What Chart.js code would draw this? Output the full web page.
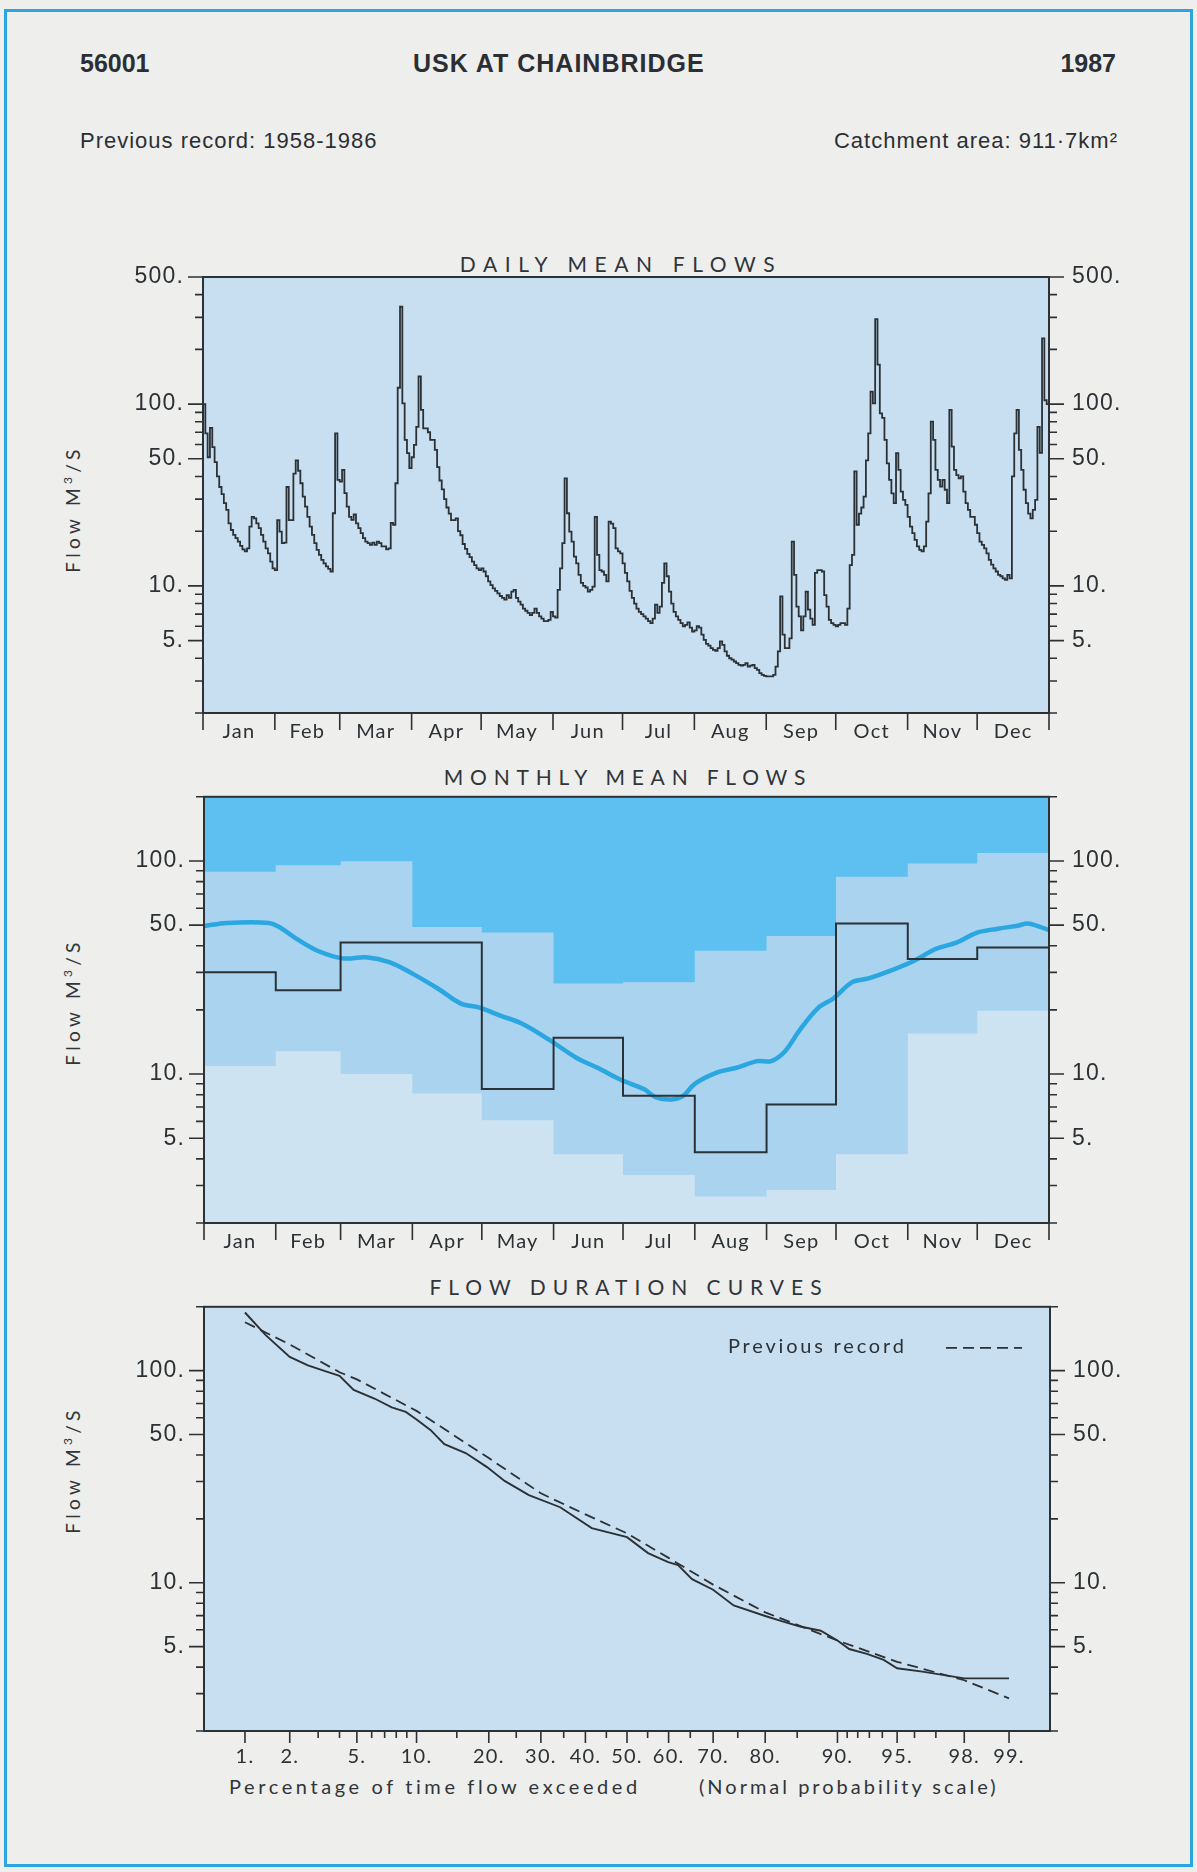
<!DOCTYPE html>
<html>
<head>
<meta charset="utf-8">
<title>56001 USK AT CHAINBRIDGE 1987</title>
<script src="https://cdn.jsdelivr.net/npm/chart.js@4.4.1/dist/chart.umd.min.js"></script>
<style>
  html, body { margin: 0; padding: 0; background: #eeeeec; }
  #page { position: relative; width: 1197px; height: 1872px; overflow: hidden; background: #eeeeec; }
  .frame { position: absolute; background: #2ba4df; }
  .txt { position: absolute; white-space: nowrap; color: #2b2f33; line-height: 1; }
  .hdr { font-family: "Liberation Sans", Arial, sans-serif; }
  .plot-title { font-family: Lato, "DejaVu Sans", sans-serif; font-weight: 400; font-size: 21px; letter-spacing: 7.3px; transform: translateX(-50%); color: #30353a; }
  .ytitle { font-family: Lato, "DejaVu Sans", sans-serif; font-weight: 400; font-size: 19px; letter-spacing: 4.3px; transform: translate(-50%, -50%) rotate(-90deg); color: #30353a; }
  .ytitle sup { font-size: 12px; vertical-align: 8px; line-height: 0; }
  .xtitle { font-family: Lato, "DejaVu Sans", sans-serif; font-weight: 400; font-size: 20px; letter-spacing: 3.6px; color: #30353a; }
  .chart-box { position: absolute; left: 0; width: 1197px; }
</style>
</head>
<body>
<div id="page">
  <div class="frame" style="left:4px;top:9px;width:1189px;height:3px"></div>
  <div class="frame" style="left:4px;top:9px;width:3px;height:1858px"></div>
  <div class="frame" style="left:1190px;top:9px;width:3px;height:1858px"></div>
  <div class="frame" style="left:4px;top:1864px;width:1189px;height:3px"></div>

  <div class="txt hdr" style="left:80px;top:51px;font-size:25px;font-weight:bold">56001</div>
  <div class="txt hdr" style="left:413px;top:51px;font-size:25px;font-weight:bold;letter-spacing:1px">USK AT CHAINBRIDGE</div>
  <div class="txt hdr" style="right:81px;top:51px;font-size:25px;font-weight:bold">1987</div>
  <div class="txt hdr" style="left:80px;top:130px;font-size:22px;letter-spacing:1px">Previous record: 1958-1986</div>
  <div class="txt hdr" style="right:79px;top:130px;font-size:22px;letter-spacing:1px">Catchment area: 911·7km²</div>

  <div class="txt plot-title" style="left:621px;top:253px;letter-spacing:7.6px">DAILY MEAN FLOWS</div>
  <div class="txt plot-title" style="left:628px;top:766px;letter-spacing:6.8px">MONTHLY MEAN FLOWS</div>
  <div class="txt plot-title" style="left:629px;top:1276px;letter-spacing:7.0px">FLOW DURATION CURVES</div>

  <div class="txt ytitle" style="left:72px;top:509px">Flow M<sup>3</sup>/S</div>
  <div class="txt ytitle" style="left:72px;top:1002px">Flow M<sup>3</sup>/S</div>
  <div class="txt ytitle" style="left:72px;top:1470px">Flow M<sup>3</sup>/S</div>

  <div class="txt xtitle" style="left:229px;top:1776px">Percentage of time flow exceeded</div>
  <div class="txt xtitle" style="left:699px;top:1776px;letter-spacing:3px">(Normal probability scale)</div>

  <div class="chart-box" style="top:230px;height:530px"><canvas id="dailyChart"></canvas></div>
  <div class="chart-box" style="top:760px;height:520px"><canvas id="monthlyChart"></canvas></div>
  <div class="chart-box" style="top:1270px;height:520px"><canvas id="durationChart"></canvas></div>
</div>

<script>
// ---------- data ----------
const monthNames = ['Jan', 'Feb', 'Mar', 'Apr', 'May', 'Jun', 'Jul', 'Aug', 'Sep', 'Oct', 'Nov', 'Dec'];
const monthStartDays = [0, 31, 59, 90, 120, 151, 181, 212, 243, 273, 304, 334, 365];

// daily mean flow 1987 (m3/s), 1 Jan .. 31 Dec
const dailyFlow1987 = [
  // Jan
  100, 69, 51, 74, 58, 48, 40, 35, 32, 28.5,
  26.2, 22.1, 20.3, 19.1, 18.3, 17.5, 16.6, 15.9, 15.5, 16.1,
  21.2, 24, 23.5, 22.1, 20.8, 19.1, 17.5, 16.1, 15.1, 13.6,
  12.5,
  // Feb
  12.2, 23, 19.9, 17.2, 17.3, 35, 23, 23, 41.5, 49,
  43, 36.7, 31, 27.3, 24, 21.2, 19.1, 17.2, 15.8, 14.8,
  13.9, 13.3, 12.8, 12.4, 12.0, 25.1, 69, 38.3,
  // Mar
  37.5, 43.5, 32.4, 27.3, 24, 23.1, 24.7, 22.1, 20.8, 19.5,
  18.3, 17.5, 17.2, 16.8, 17.3, 16.8, 17.5, 17.2, 16.5, 16.5,
  15.9, 16.1, 22.2, 21.7, 36.7, 123, 343, 101, 63.5, 53.7,
  44.4,
  // Apr
  51, 59.6, 75, 142, 93, 73.6, 73.6, 70, 63.5, 63.5,
  56, 45, 38, 34, 30, 27, 25, 23, 23, 23.5,
  20, 19, 17, 16, 15, 14.4, 13.6, 13, 12.5, 12.2,
  // May
  12.5, 12.0, 11.3, 10.6, 10.1, 9.7, 9.4, 9.1, 8.8, 8.6,
  8.4, 8.9, 8.6, 9.3, 9.5, 8.6, 8.2, 7.9, 7.5, 7.3,
  7.1, 6.9, 7.1, 7.5, 7.1, 6.8, 6.6, 6.4, 6.4, 6.5,
  7.2,
  // Jun
  6.8, 6.7, 9.5, 12.5, 17.2, 39, 25.1, 19.9, 17.5, 14.5,
  13.3, 11.5, 10.4, 10.0, 9.8, 9.3, 9.5, 9.9, 24, 14.8,
  12.2, 12.0, 11.5, 10.6, 22.6, 22, 20.8, 16.1, 15.5, 15.1,
  // Jul
  13.3, 11.8, 10.6, 9.4, 8.6, 8.0, 7.5, 7.2, 7.0, 6.8,
  6.6, 6.4, 6.25, 6.6, 7.9, 7.1, 7.7, 10.4, 13.3, 11.3,
  9.3, 8.0, 7.2, 6.8, 6.5, 6.25, 6.0, 6.1, 6.3, 5.9,
  5.6,
  // Aug
  5.7, 6.0, 5.9, 5.4, 5.05, 4.8, 4.7, 4.55, 4.45, 4.4,
  4.55, 4.95, 4.74, 4.36, 4.13, 4.0, 3.93, 3.84, 3.76, 3.68,
  3.64, 3.68, 3.76, 3.6, 3.64, 3.68, 3.53, 3.45, 3.31, 3.24,
  3.2,
  // Sep
  3.18, 3.18, 3.18, 3.24, 3.6, 4.36, 8.75, 5.4, 4.55, 4.55,
  5.15, 17.5, 11.5, 7.7, 6.8, 5.7, 6.8, 9.3, 7.4, 6.6,
  6.1, 11.8, 12.2, 12.2, 12.0, 8.9, 7.7, 6.5, 6.25, 6.1,
  // Oct
  6.0, 6.1, 6.25, 6.25, 6.1, 7.5, 13, 14.8, 42.6, 21.7,
  25, 27, 31, 49, 69, 117, 101, 293, 165, 89,
  84, 63.5, 47.2, 38.3, 32.3, 28.5, 53.7, 43.5, 33, 29.7,
  27.9,
  // Nov
  24, 21.2, 19.5, 17.9, 16.5, 15.8, 15.5, 16.5, 22.6, 32.3,
  80, 63.5, 43.5, 38.3, 35.2, 38.3, 33.8, 28.5, 93, 58.4,
  43.5, 40.7, 39.1, 40, 33, 28.5, 26.2, 24, 24, 21.7,
  // Dec
  19.5, 17.5, 16.8, 16.1, 15.1, 13.9, 13.1, 12.5, 12.0, 11.5,
  11.3, 11.0, 10.8, 11.5, 11.0, 40, 69, 93, 56, 43.5,
  33.8, 28.5, 25, 23.5, 26.2, 29.7, 75, 54, 230, 105,
  100
];

// monthly flows (m3/s)
const monthlyMean1987 = [30, 24.7, 41.4, 41.4, 8.5, 14.8, 7.9, 4.3, 7.2, 50.9, 34.7, 39.3];
const monthlyMaxPrevious = [89, 95.5, 99.7, 49, 46.1, 26.6, 27.0, 37.9, 44.5, 84.3, 97.2, 108.9];
const monthlyMinPrevious = [10.9, 12.8, 10.0, 8.1, 6.07, 4.2, 3.36, 2.66, 2.86, 4.2, 15.5, 19.8];

// long-term average daily flow through the year
const averageFlowDays = [0, 10, 28, 33, 40, 49, 60, 70, 80, 90, 101, 111, 119, 128, 137, 149, 161, 170, 180, 190, 195, 202, 207, 212, 222, 230, 239, 245, 251, 257, 265, 272, 280, 287, 298, 307, 316, 325, 334, 343, 352, 356, 365];
const averageFlowValues = [49.5, 51.2, 51.2, 48.6, 43.1, 37.9, 34.9, 35.3, 33.5, 29.6, 25.2, 21.4, 20.5, 18.8, 17.3, 14.5, 11.9, 10.7, 9.4, 8.5, 7.8, 7.6, 7.9, 9.0, 10.2, 10.7, 11.5, 11.5, 12.8, 15.9, 20.3, 22.7, 27.0, 28.1, 31.0, 34.1, 38.6, 41.4, 46.1, 48.1, 49.8, 50.9, 47.4];

// flow duration curves: percentage of time exceeded -> flow
const duration1987Percent = [1, 1.39, 2, 2.6, 3.3, 4, 4.8, 6.2, 7.6, 8.9, 10, 11.6, 13.3, 16.3, 19.7, 22.8, 27.5, 34.2, 41.5, 50, 55.1, 59.9, 62.2, 65.4, 70, 74.2, 80, 82.8, 85.4, 88.1, 90, 91.2, 92.8, 94.1, 95, 96.4, 98, 99];
const duration1987Flow = [188, 147, 116, 106, 99.4, 94.6, 81.2, 73.9, 67.1, 63.9, 58.8, 52.4, 45.0, 40.9, 35.1, 30.2, 25.9, 22.7, 18.1, 16.4, 13.8, 12.5, 12.1, 10.4, 9.27, 7.82, 6.97, 6.57, 6.22, 5.94, 5.34, 4.87, 4.62, 4.33, 3.95, 3.81, 3.54, 3.54];
const durationPreviousPercent = [1, 2, 4, 5, 10, 20, 30, 40, 50, 60, 70, 80, 90, 95, 98, 99];
const durationPreviousFlow = [169, 133, 98.3, 91, 64.6, 38.7, 26.4, 21.0, 17.1, 13.1, 9.8, 7.25, 5.34, 4.24, 3.47, 2.85];

// axis ticks
const flowTickValues = [2, 3, 4, 5, 6, 7, 8, 9, 10, 20, 30, 40, 50, 60, 70, 80, 90, 100, 200, 300, 400, 500];
const flowTickLabels = { 5: '5.', 10: '10.', 50: '50.', 100: '100.', 500: '500.' };
const percentTickValues = [1, 2, 3, 4, 5, 6, 7, 8, 9, 10, 15, 20, 25, 30, 35, 40, 45, 50, 55, 60, 65, 70, 75, 80, 85, 90, 91, 92, 93, 94, 95, 96, 97, 98, 99];
const percentTickLabels = { 1: '1.', 2: '2.', 5: '5.', 10: '10.', 20: '20.', 30: '30.', 40: '40.', 50: '50.', 60: '60.', 70: '70.', 80: '80.', 90: '90.', 95: '95.', 98: '98.', 99: '99.' };

// ---------- styling ----------
const INK = '#2c3135';
const PLOT_FILL = '#c7dff0';
const BAND_TOP = '#5ec0f0';
const BAND_MID = '#a9d3ef';
const BAND_LOW = '#cde3f2';
const AVERAGE_BLUE = '#2aa6e0';
const NUM_FONT = { family: '"Liberation Sans", Arial, sans-serif', size: 23 };
const LABEL_FONT = { family: 'Lato, "DejaVu Sans", sans-serif', size: 20 };
const PREVIOUS_DASH = [11, 6];

// ---------- normal probability scale ----------
function normalQuantile(p) {
  const a = [-3.969683028665376e+01, 2.209460984245205e+02, -2.759285104469687e+02, 1.383577518672690e+02, -3.066479806614716e+01, 2.506628277459239e+00];
  const b = [-5.447609879822406e+01, 1.615858368580409e+02, -1.556989798598866e+02, 6.680131188771972e+01, -1.328068155288572e+01];
  const c = [-7.784894002430293e-03, -3.223964580411365e-01, -2.400758277161838e+00, -2.549732539343734e+00, 4.374664141464968e+00, 2.938163982698783e+00];
  const d = [7.784695709041462e-03, 3.224671290700398e-01, 2.445134137142996e+00, 3.754408661907416e+00];
  const lo = 0.02425, hi = 1 - lo;
  if (p < lo) {
    const q = Math.sqrt(-2 * Math.log(p));
    return (((((c[0] * q + c[1]) * q + c[2]) * q + c[3]) * q + c[4]) * q + c[5]) / ((((d[0] * q + d[1]) * q + d[2]) * q + d[3]) * q + 1);
  }
  if (p <= hi) {
    const q = p - 0.5, r = q * q;
    return (((((a[0] * r + a[1]) * r + a[2]) * r + a[3]) * r + a[4]) * r + a[5]) * q / (((((b[0] * r + b[1]) * r + b[2]) * r + b[3]) * r + b[4]) * r + 1);
  }
  const q = Math.sqrt(-2 * Math.log(1 - p));
  return -(((((c[0] * q + c[1]) * q + c[2]) * q + c[3]) * q + c[4]) * q + c[5]) / ((((d[0] * q + d[1]) * q + d[2]) * q + d[3]) * q + 1);
}

class ProbabilityScale extends Chart.Scale {
  determineDataLimits() {
    this.min = this.options.min;
    this.max = this.options.max;
  }
  buildTicks() { return []; }
  getLabelForValue(v) { return String(v); }
  configure() {
    super.configure();
    this._zStart = normalQuantile(this.min / 100);
    this._zEnd = normalQuantile(this.max / 100);
  }
  getPixelForValue(v) {
    const z = normalQuantile(v / 100);
    return this.getPixelForDecimal((z - this._zStart) / (this._zEnd - this._zStart));
  }
  getValueForPixel(px) {
    const t = this.getDecimalForPixel(px);
    const zTarget = this._zStart + t * (this._zEnd - this._zStart);
    let lo = this.min, hi = this.max;
    for (let i = 0; i < 50; i++) {
      const mid = (lo + hi) / 2;
      if (normalQuantile(mid / 100) < zTarget) lo = mid; else hi = mid;
    }
    return (lo + hi) / 2;
  }
  getPixelForTick(i) { return this.getPixelForValue(this.ticks[i].value); }
}
ProbabilityScale.id = 'probability';
ProbabilityScale.defaults = {};
Chart.register(ProbabilityScale);

// ---------- helpers ----------
const monthMidDays = monthStartDays.slice(0, 12).map((s, i) => (s + monthStartDays[i + 1]) / 2);
const monthStep = arr => arr.map((v, i) => ({ x: monthStartDays[i], y: v })).concat([{ x: 365, y: arr[arr.length - 1] }]);
const dailyPoints = dailyFlow1987.map((v, i) => ({ x: i, y: v })).concat([{ x: 365, y: dailyFlow1987[dailyFlow1987.length - 1] }]);
const averagePoints = averageFlowDays.map((d, i) => ({ x: d, y: averageFlowValues[i] }));
const pairs = (xs, ys) => xs.map((x, i) => ({ x, y: ys[i] }));

function monthAxis(height, padding) {
  return {
    type: 'linear', position: 'bottom', min: 0, max: 365,
    afterFit: s => { s.height = height; },
    afterBuildTicks: s => { s.ticks = monthMidDays.map(v => ({ value: v })); },
    grid: { display: false, drawTicks: false },
    border: { display: false },
    ticks: { autoSkip: false, maxRotation: 0, padding, color: INK, font: LABEL_FONT, callback: (v, i) => monthNames[i] }
  };
}

function flowAxis(position, min, max, width) {
  return {
    type: 'logarithmic', position, min, max,
    afterFit: s => { s.width = width; },
    afterBuildTicks: s => { s.ticks = flowTickValues.filter(v => v >= min && v <= max).map(v => ({ value: v })); },
    grid: { display: false, drawTicks: false },
    border: { display: false },
    ticks: { autoSkip: false, padding: position === 'left' ? 19 : 23, color: INK, font: NUM_FONT, callback: v => flowTickLabels[v] || '' }
  };
}

// plot background, frame and tick marks of different lengths
function plotFrame(opts) {
  return {
    id: 'plotFrame',
    beforeDraw(chart) {
      const { ctx, chartArea: a } = chart;
      ctx.save();
      ctx.fillStyle = opts.fill;
      ctx.fillRect(a.left, a.top, a.right - a.left, a.bottom - a.top);
      ctx.restore();
      // slightly open tracking for the axis labels drawn after this point
      ctx.letterSpacing = '1.2px';
    },
    afterDraw(chart) {
      const { ctx, chartArea: a } = chart;
      const ys = chart.scales.y, xs = chart.scales.x;
      ctx.save();
      ctx.strokeStyle = INK;
      ctx.lineWidth = 2;
      ctx.strokeRect(a.left, a.top, a.right - a.left, a.bottom - a.top);
      ctx.lineWidth = 1.6;
      ctx.beginPath();
      ys.ticks.forEach(t => {
        const py = ys.getPixelForValue(t.value);
        const len = flowTickLabels[t.value] ? 15 : 8;
        ctx.moveTo(a.left - len, py); ctx.lineTo(a.left, py);
        ctx.moveTo(a.right, py); ctx.lineTo(a.right + len, py);
      });
      opts.xTicks.forEach(t => {
        const px = xs.getPixelForValue(t.value);
        ctx.moveTo(px, a.bottom); ctx.lineTo(px, a.bottom + t.len);
      });
      ctx.stroke();
      if (opts.after) opts.after(chart);
      ctx.restore();
    }
  };
}

const baseOptions = (top) => ({
  animation: false,
  responsive: true,
  maintainAspectRatio: false,
  events: [],
  layout: { padding: { top, left: 0, right: 0, bottom: 0 } },
  plugins: { legend: { display: false }, tooltip: { enabled: false } },
  elements: { point: { radius: 0 } }
});

const monthBoundaryTicks = monthStartDays.map(v => ({ value: v, len: 17 }));

// ---------- daily mean flows ----------
new Chart(document.getElementById('dailyChart'), {
  type: 'line',
  data: {
    datasets: [{
      label: '1987 daily mean flow',
      data: dailyPoints,
      stepped: true,
      borderColor: INK,
      borderWidth: 1.8,
      fill: false
    }]
  },
  options: Object.assign(baseOptions(47), {
    scales: {
      x: monthAxis(47, 7),
      y: flowAxis('left', 2, 500, 203),
      y2: flowAxis('right', 2, 500, 148)
    }
  }),
  plugins: [plotFrame({ fill: PLOT_FILL, xTicks: monthBoundaryTicks })]
});

// ---------- monthly mean flows ----------
new Chart(document.getElementById('monthlyChart'), {
  type: 'line',
  data: {
    datasets: [
      { label: 'Previous maximum', data: monthStep(monthlyMaxPrevious), stepped: true, borderWidth: 0, fill: 'start', backgroundColor: BAND_MID, order: 5 },
      { label: 'Previous minimum', data: monthStep(monthlyMinPrevious), stepped: true, borderWidth: 0, fill: 'start', backgroundColor: BAND_LOW, order: 4 },
      { label: 'Average daily flow', data: averagePoints, borderColor: AVERAGE_BLUE, borderWidth: 4.5, tension: 0.35, fill: false, order: 2 },
      { label: '1987 monthly mean', data: monthStep(monthlyMean1987), stepped: true, borderColor: INK, borderWidth: 2, fill: false, order: 1 }
    ]
  },
  options: Object.assign(baseOptions(29), {
    scales: {
      x: monthAxis(57, 7),
      y: flowAxis('left', 2, 200, 204),
      y2: flowAxis('right', 2, 200, 148)
    }
  }),
  plugins: [plotFrame({ fill: BAND_TOP, xTicks: monthBoundaryTicks })]
});

// ---------- flow duration curves ----------
new Chart(document.getElementById('durationChart'), {
  type: 'line',
  data: {
    datasets: [
      { label: '1987', data: pairs(duration1987Percent, duration1987Flow), borderColor: INK, borderWidth: 1.9, fill: false },
      { label: 'Previous record', data: pairs(durationPreviousPercent, durationPreviousFlow), borderColor: INK, borderWidth: 1.8, borderDash: PREVIOUS_DASH, fill: false }
    ]
  },
  options: Object.assign(baseOptions(28), {
    scales: {
      x: {
        type: 'probability', position: 'bottom', min: 0.5, max: 99.5,
        afterFit: s => { s.height = 59; },
        afterBuildTicks: s => { s.ticks = percentTickValues.map(v => ({ value: v })); },
        grid: { display: false, drawTicks: false },
        border: { display: false },
        ticks: { autoSkip: false, maxRotation: 0, padding: 14, color: INK, font: LABEL_FONT, callback: v => percentTickLabels[v] || '' }
      },
      y: flowAxis('left', 2, 200, 204),
      y2: flowAxis('right', 2, 200, 147)
    }
  }),
  plugins: [plotFrame({
    fill: PLOT_FILL,
    xTicks: percentTickValues.map(v => ({ value: v, len: percentTickLabels[v] ? 12 : 7 })),
    after(chart) {
      const { ctx, chartArea: a } = chart;
      const y = a.top + 40;
      ctx.fillStyle = INK;
      ctx.font = '400 20px Lato, "DejaVu Sans", sans-serif';
      ctx.letterSpacing = '2.8px';
      ctx.textBaseline = 'middle';
      ctx.textAlign = 'left';
      ctx.fillText('Previous record', a.right - 322, y);
      ctx.letterSpacing = '0px';
      ctx.setLineDash(PREVIOUS_DASH);
      ctx.lineWidth = 1.8;
      ctx.beginPath();
      ctx.moveTo(a.right - 104, y + 1);
      ctx.lineTo(a.right - 28, y + 1);
      ctx.stroke();
    }
  })]
});
</script>
</body>
</html>
